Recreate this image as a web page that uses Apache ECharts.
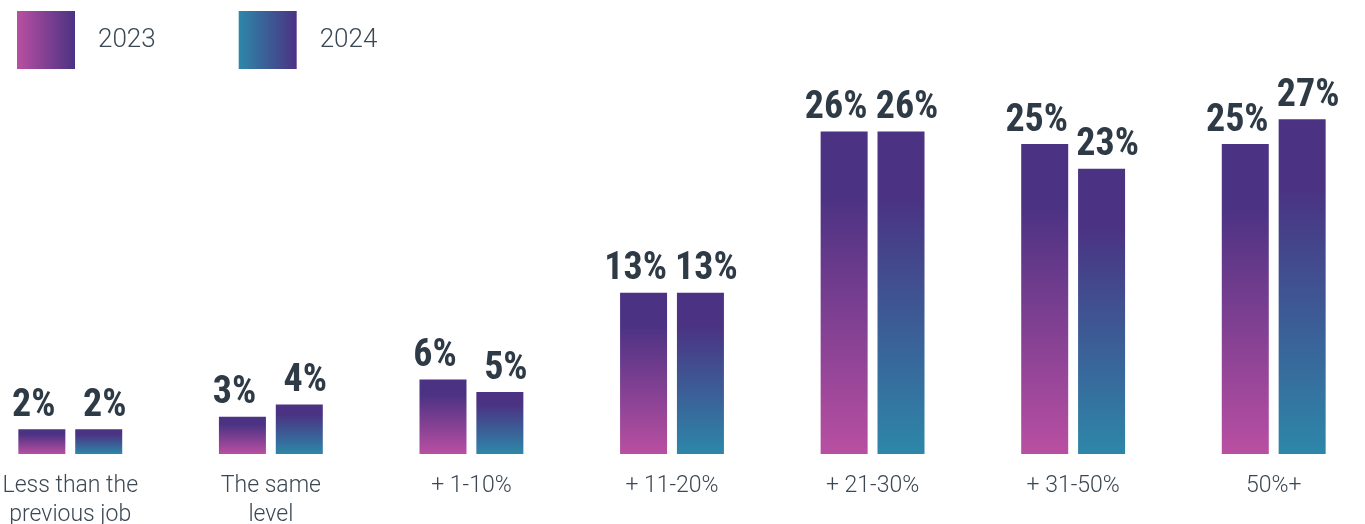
<!DOCTYPE html>
<html>
<head>
<meta charset="utf-8">
<script src="https://cdn.jsdelivr.net/npm/echarts@6/dist/echarts.min.js"></script>
<style>
html,body{margin:0;padding:0;background:#fff;overflow:hidden;}
#chart{width:1365px;height:524px;}
</style>
</head>
<body>
<div id="chart"></div>
<script>
const categories = ['Less than the\nprevious job', 'The same\nlevel', '+ 1-10%', '+ 11-20%', '+ 21-30%', '+ 31-50%', '50%+'];
const seriesNames = ['2023', '2024'];
const values2023 = [2, 3, 6, 13, 26, 25, 25];
const values2024 = [2, 4, 5, 13, 26, 23, 27];

const PURPLE = '#4b3283';
const PINK = '#b94fa2';
const TEAL = '#2d87a9';
const TEXT = '#3b4753';

function vGrad(bottom) {
  return new echarts.graphic.LinearGradient(0, 0, 0, 1, [
    { offset: 0, color: PURPLE },
    { offset: 0.2, color: PURPLE },
    { offset: 1, color: bottom }
  ]);
}
function hGrad(left) {
  return new echarts.graphic.LinearGradient(0, 0, 1, 0, [
    { offset: 0, color: left },
    { offset: 1, color: PURPLE }
  ]);
}

function valueLabel(dx) {
  return {
    show: true,
    position: 'top',
    distance: 4,
    offset: [dx, 0],
    formatter: '{c}%',
    fontFamily: 'Roboto, sans-serif',
    fontWeight: 'bold condensed',
    fontSize: 38,
    color: '#2e3a45'
  };
}

const chart = echarts.init(document.getElementById('chart'), null, { renderer: 'canvas' });
chart.setOption({
  animation: false,
  backgroundColor: '#ffffff',
  legend: {
    left: 17,
    top: 11,
    padding: 0,
    itemWidth: 58,
    itemHeight: 58,
    itemGap: 83,
    icon: 'rect',
    textStyle: {
      fontFamily: 'Roboto, "Liberation Sans", sans-serif',
      fontWeight: 300,
      fontSize: 26,
      color: TEXT,
      padding: [0, 0, 0, 18]
    },
    data: [
      { name: seriesNames[0], itemStyle: { color: hGrad(PINK) } },
      { name: seriesNames[1], itemStyle: { color: hGrad(TEAL) } }
    ]
  },
  grid: { left: -30, right: -9, top: 82, bottom: 70, containLabel: false, outerBoundsMode: 'none' },
  xAxis: {
    type: 'category',
    data: categories,
    axisLine: { show: false },
    axisTick: { show: false },
    axisLabel: {
      interval: 0,
      margin: 18,
      fontFamily: 'Roboto, "Liberation Sans", sans-serif',
      fontWeight: 300,
      fontSize: 23,
      lineHeight: 29,
      color: TEXT
    }
  },
  yAxis: {
    type: 'value',
    min: 0,
    max: 30,
    show: false,
    splitLine: { show: false }
  },
  series: [
    {
      name: seriesNames[0],
      type: 'bar',
      data: values2023,
      barWidth: 47,
      barGap: '21%',
      itemStyle: { color: vGrad(PINK) },
      label: valueLabel(-8)
    },
    {
      name: seriesNames[1],
      type: 'bar',
      data: values2024,
      barWidth: 47,
      barGap: '21%',
      itemStyle: { color: vGrad(TEAL) },
      label: valueLabel(6)
    }
  ]
});
</script>
</body>
</html>
